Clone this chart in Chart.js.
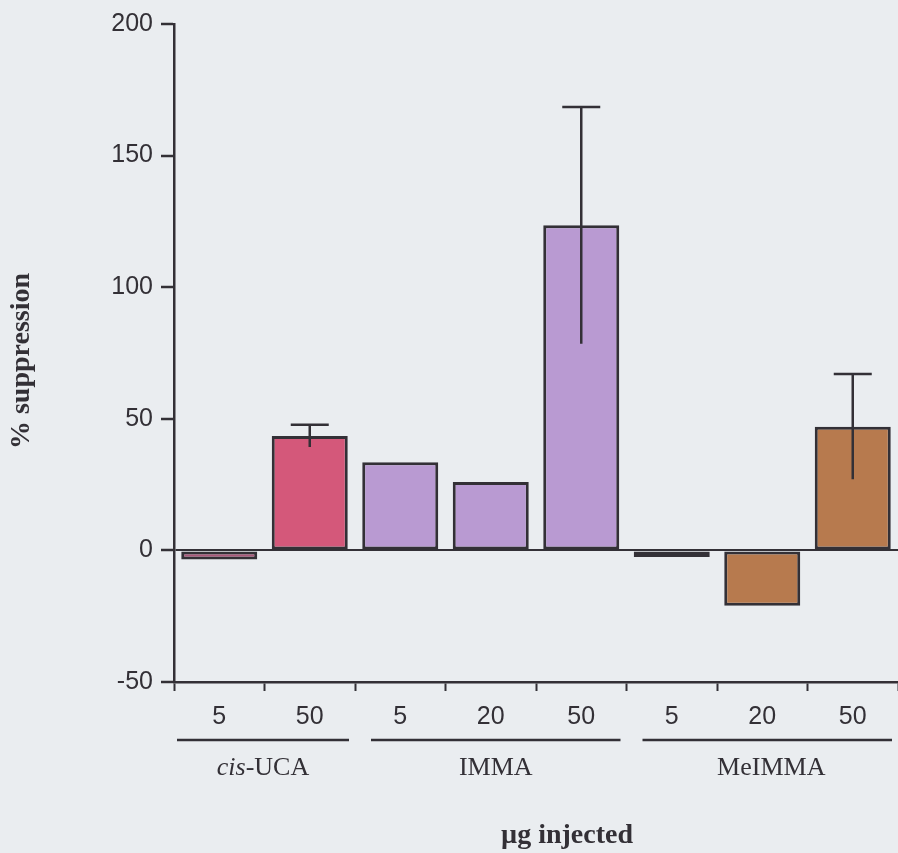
<!DOCTYPE html>
<html>
<head>
<meta charset="utf-8">
<script src="https://cdn.jsdelivr.net/npm/chart.js@4"></script>
<style>
  html, body { margin: 0; padding: 0; background: #eaedf0; }
  #wrap { width: 898px; height: 853px; position: relative; }
</style>
</head>
<body>
<div id="wrap"><canvas id="c" width="898" height="853"></canvas></div>
<script>
// ---- data ----
const doseLabels = ['5', '50', '5', '20', '50', '5', '20', '50'];
const groupNames = ['cis-UCA', 'IMMA', 'MeIMMA'];
const groupSizes = [2, 3, 3];
const suppression = [-3.5, 43.5, 33.5, 26, 123.5, -2.5, -21, 47];
const errors = [0, 4.2, 0, 0, 45, 0, 0, 20];
const yTicks = [-50, 0, 50, 100, 150, 200];
const barColors = ['#a9587a', '#d4587a', '#b99ad2', '#b99ad2', '#b99ad2', '#b77a4e', '#b77a4e', '#b77a4e'];

const INK = '#333036';

const extras = {
  id: 'extras',
  afterDatasetsDraw(chart) {
    const ctx = chart.ctx;
    const x = chart.scales.x, y = chart.scales.y;
    // error bars
    ctx.save();
    ctx.strokeStyle = INK;
    ctx.lineWidth = 2.5;
    suppression.forEach((v, i) => {
      const e = errors[i];
      if (!e) return;
      const px = x.getPixelForValue(i);
      const top = y.getPixelForValue(v + e);
      const bot = y.getPixelForValue(v - e);
      ctx.beginPath();
      ctx.moveTo(px, bot); ctx.lineTo(px, top);
      ctx.moveTo(px - 19, top); ctx.lineTo(px + 19, top);
      ctx.stroke();
    });
    ctx.restore();
  },
  afterDraw(chart) {
    const ctx = chart.ctx;
    const x = chart.scales.x;
    const half = (x.getPixelForValue(1) - x.getPixelForValue(0)) / 2;
    ctx.save();
    ctx.fillStyle = INK;
    ctx.strokeStyle = INK;
    ctx.lineWidth = 2.5;
    let idx = 0;
    groupNames.forEach((name, g) => {
      const first = idx, last = idx + groupSizes[g] - 1;
      idx += groupSizes[g];
      const x0 = x.getPixelForValue(first) - half + (g === 0 ? 3 : 16);
      const x1 = x.getPixelForValue(last) + half - 6;
      ctx.beginPath();
      ctx.moveTo(x0, 740); ctx.lineTo(x1, 740);
      ctx.stroke();
      const cx = (x0 + x1) / 2 + (g === 2 ? 4 : 0);
      ctx.textBaseline = 'alphabetic';
      if (name.startsWith('cis-')) {
        const italic = 'italic 26px "Liberation Serif", "Times New Roman", serif';
        const regular = '26px "Liberation Serif", "Times New Roman", serif';
        ctx.font = italic;
        const w1 = ctx.measureText('cis').width;
        ctx.font = regular;
        const w2 = ctx.measureText(name.slice(3)).width;
        const sx = cx - (w1 + w2) / 2;
        ctx.textAlign = 'left';
        ctx.font = italic;
        ctx.fillText('cis', sx, 775);
        ctx.font = regular;
        ctx.fillText(name.slice(3), sx + w1, 775);
      } else {
        ctx.font = '26px "Liberation Serif", "Times New Roman", serif';
        ctx.textAlign = 'center';
        ctx.fillText(name, cx, 775);
      }
    });
    // x title
    ctx.font = 'bold 28px "Liberation Serif", "Times New Roman", serif';
    ctx.textAlign = 'center';
    ctx.fillText('\u00b5g injected', 567, 843);
    // y title
    ctx.translate(22, 361);
    ctx.rotate(-Math.PI / 2);
    ctx.font = 'bold 28px "Liberation Serif", "Times New Roman", serif';
    ctx.textAlign = 'center';
    ctx.textBaseline = 'middle';
    ctx.fillText('% suppression', 0, 0);
    ctx.restore();
  }
};

new Chart(document.getElementById('c'), {
  type: 'bar',
  data: {
    labels: doseLabels,
    datasets: [{
      data: suppression,
      backgroundColor: barColors,
      borderColor: INK,
      borderWidth: 3,
      borderSkipped: false,
      barPercentage: 0.84,
      categoryPercentage: 1.0
    }]
  },
  options: {
    responsive: false,
    animation: false,
    events: [],
    layout: { padding: { top: 24, right: 0, left: 0, bottom: 0 } },
    plugins: { legend: { display: false }, tooltip: { enabled: false } },
    scales: {
      x: {
        offset: true,
        grid: { offset: true, drawOnChartArea: false, drawTicks: true, tickLength: 9, tickColor: INK, tickWidth: 2 },
        border: { display: true, color: INK, width: 2.5 },
        ticks: { color: INK, padding: 11, font: { family: '"Liberation Sans", Arial, sans-serif', size: 25 } },
        afterFit(s) { s.height = 853 - 682; }
      },
      y: {
        min: -50, max: 200,
        afterBuildTicks(s) { s.ticks = yTicks.map(v => ({ value: v })); },
        grid: {
          drawOnChartArea: true,
          color: c => (c.tick && c.tick.value === 0 ? INK : 'rgba(0,0,0,0)'),
          lineWidth: 2,
          tickColor: INK, tickWidth: 2.5, tickLength: 13, drawTicks: true
        },
        border: { display: true, color: INK, width: 2.5 },
        ticks: { color: INK, padding: 8, font: { family: '"Liberation Sans", Arial, sans-serif', size: 25 } },
        afterFit(s) { s.width = 174; }
      }
    }
  },
  plugins: [extras]
});
</script>
</body>
</html>
